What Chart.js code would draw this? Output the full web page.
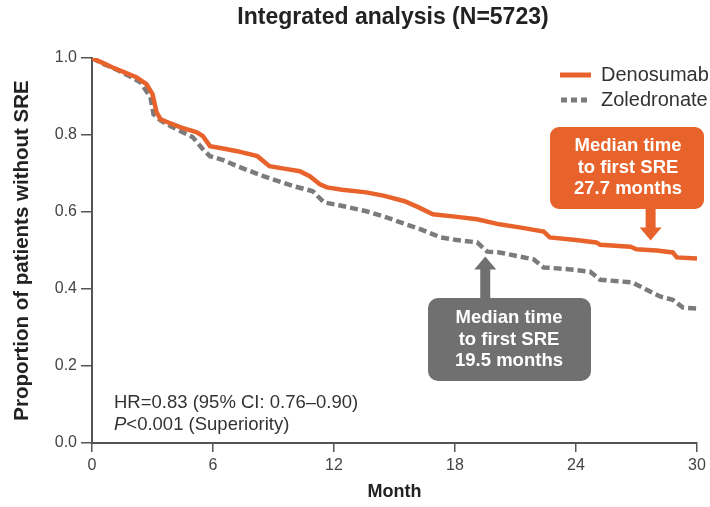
<!DOCTYPE html>
<html>
<head>
<meta charset="utf-8">
<script src="https://cdn.jsdelivr.net/npm/chart.js@4.4.1/dist/chart.umd.min.js"></script>
<style>
  html, body { margin: 0; padding: 0; background: #fff; }
  #wrap { width: 710px; height: 507px; }
</style>
</head>
<body>
<div id="wrap"><canvas id="km" width="710" height="507"></canvas></div>
<script>
const FONT = '"Liberation Sans", Arial, Helvetica, sans-serif';

// Kaplan-Meier estimates, months from randomisation
const denoMonths = [0, 0.5, 1.0, 1.55, 2.2, 2.7, 3.0, 3.2, 3.4, 3.9, 4.4, 5.2, 5.5, 5.85, 6.5, 7.2, 8.2, 8.8, 9.6, 10.3, 10.8, 11.3, 11.65, 12.4, 13.6, 14.5, 15.5, 16.2, 16.9, 18.0, 19.1, 20.2, 21.2, 22.4, 22.7, 24.0, 25.0, 25.2, 26.7, 27.0, 28.0, 28.8, 29.0, 30.0];
const denoValues = [1.0, 0.988, 0.976, 0.964, 0.95, 0.932, 0.906, 0.859, 0.841, 0.83, 0.82, 0.807, 0.797, 0.771, 0.765, 0.758, 0.745, 0.719, 0.712, 0.706, 0.693, 0.672, 0.664, 0.658, 0.651, 0.642, 0.628, 0.612, 0.594, 0.588, 0.581, 0.568, 0.56, 0.549, 0.534, 0.527, 0.521, 0.515, 0.51, 0.503, 0.5, 0.495, 0.482, 0.479];

const zolMonths = [0, 0.5, 1.05, 1.7, 2.4, 2.9, 3.05, 3.4, 3.9, 4.4, 5.0, 5.5, 5.85, 6.5, 7.2, 8.5, 10.0, 10.95, 11.5, 12.3, 13.6, 14.5, 15.3, 16.3, 17.3, 18.0, 19.1, 19.6, 20.2, 21.9, 22.4, 23.5, 24.7, 25.2, 26.8, 27.5, 28.2, 28.8, 29.3, 30.0];
const zolValues = [1.0, 0.986, 0.974, 0.957, 0.937, 0.898, 0.854, 0.838, 0.823, 0.81, 0.794, 0.763, 0.745, 0.735, 0.719, 0.693, 0.667, 0.654, 0.625, 0.617, 0.602, 0.588, 0.573, 0.555, 0.534, 0.528, 0.521, 0.497, 0.495, 0.477, 0.456, 0.452, 0.445, 0.424, 0.417, 0.398, 0.38, 0.372, 0.352, 0.349];

const xTicks = [0, 6, 12, 18, 24, 30];
const yTicks = [0, 0.2, 0.4, 0.6, 0.8, 1.0];

const seriesNames = ['Denosumab', 'Zoledronate'];
const medianMonths = [27.7, 19.5];
const statLines = ['HR=0.83 (95% CI: 0.76\u20130.90)', '<0.001 (Superiority)'];

const ORANGE = '#e8632b';
const GREY = '#7b7b7b';
const BOX_GREY = '#707070';
const AXIS = '#555555';

const toPoints = (xs, ys) => xs.map((x, i) => ({ x: x, y: ys[i] }));

// boxes, arrows, legend and the stats note drawn on top of the plot
const overlay = {
  id: 'overlay',
  afterDraw(chart) {
    const { ctx, scales } = chart;
    const xs = scales.x, ys = scales.y;
    ctx.save();

    // title
    ctx.fillStyle = '#222';
    ctx.font = 'bold 23px ' + FONT;
    ctx.textAlign = 'center';
    ctx.textBaseline = 'middle';
    ctx.fillText('Integrated analysis (N=5723)', 393, 18);

    // legend
    ctx.lineWidth = 5;
    ctx.strokeStyle = ORANGE;
    ctx.beginPath(); ctx.moveTo(560, 75); ctx.lineTo(591, 75); ctx.stroke();
    ctx.strokeStyle = GREY;
    ctx.setLineDash([6, 4]);
    ctx.beginPath(); ctx.moveTo(561, 100); ctx.lineTo(591, 100); ctx.stroke();
    ctx.setLineDash([]);
    ctx.fillStyle = '#333';
    ctx.font = '20px ' + FONT;
    ctx.textAlign = 'left';
    ctx.fillText(seriesNames[0], 601, 75);
    ctx.fillText(seriesNames[1], 601, 100);

    const roundBox = (x, y, w, h, r, color) => {
      ctx.fillStyle = color;
      ctx.beginPath();
      ctx.roundRect(x, y, w, h, r);
      ctx.fill();
    };
    const arrow = (cx, yFrom, yTip, color) => {
      const dir = yTip > yFrom ? 1 : -1;
      const headBase = yTip - dir * 13;
      ctx.fillStyle = color;
      ctx.beginPath();
      ctx.moveTo(cx - 5, yFrom);
      ctx.lineTo(cx - 5, headBase);
      ctx.lineTo(cx - 11, headBase);
      ctx.lineTo(cx, yTip);
      ctx.lineTo(cx + 11, headBase);
      ctx.lineTo(cx + 5, headBase);
      ctx.lineTo(cx + 5, yFrom);
      ctx.closePath();
      ctx.fill();
    };
    const boxText = (lines, cx, y0) => {
      ctx.fillStyle = '#fff';
      ctx.font = 'bold 18.5px ' + FONT;
      ctx.textAlign = 'center';
      lines.forEach((t, i) => ctx.fillText(t, cx, y0 + i * 21.5));
    };

    // denosumab median
    const yHalf = ys.getPixelForValue(0.5);
    arrow(xs.getPixelForValue(medianMonths[0]), 206, yHalf - 10, ORANGE);
    roundBox(550, 127, 154, 82, 9, ORANGE);
    boxText(['Median time', 'to first SRE', medianMonths[0] + ' months'], 628, 146);

    // zoledronate median
    arrow(xs.getPixelForValue(medianMonths[1]), 300, yHalf + 6, BOX_GREY);
    roundBox(428, 298, 163, 83, 10, BOX_GREY);
    boxText(['Median time', 'to first SRE', medianMonths[1] + ' months'], 509, 318);

    // hazard ratio note
    ctx.fillStyle = '#333';
    ctx.font = '18.5px ' + FONT;
    ctx.textAlign = 'left';
    ctx.fillText(statLines[0], 114, 403);
    ctx.font = 'italic 18.5px ' + FONT;
    ctx.fillText('P', 114, 425);
    const pw = ctx.measureText('P').width;
    ctx.font = '18.5px ' + FONT;
    ctx.fillText(statLines[1], 114 + pw, 425);

    ctx.restore();
  }
};

new Chart(document.getElementById('km'), {
  type: 'line',
  data: {
    datasets: [
      {
        label: seriesNames[0],
        data: toPoints(denoMonths, denoValues),
        borderColor: ORANGE,
        borderWidth: 4.5,
        pointRadius: 0,
        tension: 0,
        order: 1
      },
      {
        label: seriesNames[1],
        data: toPoints(zolMonths, zolValues),
        borderColor: GREY,
        borderWidth: 4.5,
        borderDash: [8, 4],
        pointRadius: 0,
        tension: 0,
        order: 2
      }
    ]
  },
  options: {
    responsive: false,
    animation: false,
    layout: { padding: { left: 0, right: 13, top: 58, bottom: 0 } },
    plugins: {
      legend: { display: false },
      tooltip: { enabled: false }
    },
    scales: {
      x: {
        type: 'linear',
        min: 0,
        max: 30,
        afterBuildTicks: s => { s.ticks = xTicks.map(v => ({ value: v })); },
        afterFit: s => { s.height = 64; },
        border: { color: AXIS, width: 2 },
        grid: { drawOnChartArea: false, drawTicks: true, tickLength: 9, color: AXIS, lineWidth: 1.5 },
        ticks: { color: '#444', font: { family: FONT, size: 16 }, padding: 4, maxRotation: 0 },
        title: { display: true, text: 'Month', color: '#222', font: { family: FONT, size: 18, weight: 'bold' }, padding: { top: 0, bottom: 4 } }
      },
      y: {
        min: 0,
        max: 1,
        afterBuildTicks: s => { s.ticks = yTicks.map(v => ({ value: v })); },
        afterFit: s => { s.width = 92; },
        border: { color: AXIS, width: 2 },
        grid: { drawOnChartArea: false, drawTicks: true, tickLength: 11, color: AXIS, lineWidth: 1.5 },
        ticks: { color: '#444', font: { family: FONT, size: 16 }, padding: 4, callback: v => v.toFixed(1) },
        title: { display: true, text: 'Proportion of patients without SRE', color: '#222', font: { family: FONT, size: 20.5, weight: 'bold' }, padding: { top: 10, bottom: 4 } }
      }
    }
  },
  plugins: [overlay]
});
</script>
</body>
</html>
